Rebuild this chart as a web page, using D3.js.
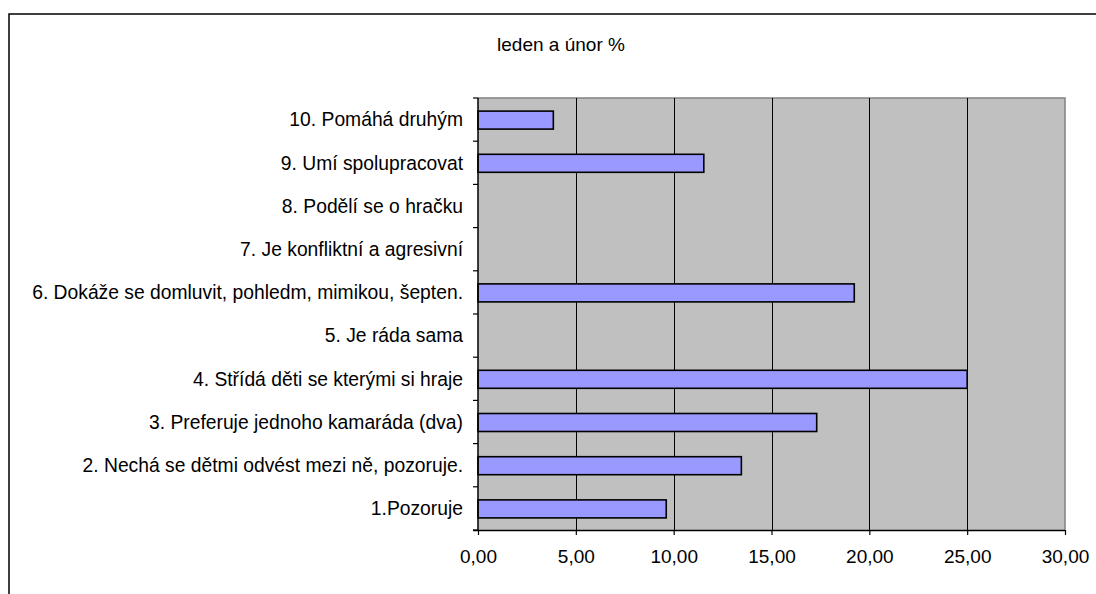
<!DOCTYPE html>
<html>
<head>
<meta charset="utf-8">
<script src="https://cdn.jsdelivr.net/npm/d3@7"></script>
<style>
  html, body { margin: 0; padding: 0; background: #fff; }
  svg { display: block; }
  text { font-family: "Liberation Sans", Arial, sans-serif; fill: #000; }
</style>
</head>
<body>
<script>
const title = "leden a únor %";
const categories = [
  "1.Pozoruje",
  "2. Nechá se dětmi odvést mezi ně, pozoruje.",
  "3. Preferuje jednoho kamaráda (dva)",
  "4. Střídá děti se kterými si hraje",
  "5. Je ráda sama",
  "6. Dokáže se domluvit, pohledm, mimikou, šepten.",
  "7. Je konfliktní a agresivní",
  "8. Podělí se o hračku",
  "9. Umí spolupracovat",
  "10. Pomáhá druhým"
];
const values = [9.62, 13.46, 17.31, 25.00, 0, 19.23, 0, 0, 11.54, 3.85];
const xTicks = [0, 5, 10, 15, 20, 25, 30];

const W = 1096, H = 594;
const plot = { left: 478, right: 1065, top: 98, bottom: 530 };

const svg = d3.select("body").append("svg").attr("width", W).attr("height", H);

// outer chart border (top and left visible)
svg.append("path")
  .attr("d", `M9,${H} L9,14 L${W},14`)
  .attr("fill", "none").attr("stroke", "#000").attr("stroke-width", 1.5);

// title
svg.append("text")
  .attr("x", 561).attr("y", 51)
  .attr("text-anchor", "middle")
  .style("font-size", "19px")
  .text(title);

const x = d3.scaleLinear().domain([0, 30]).range([plot.left, plot.right]);
const y = d3.scaleBand().domain(categories.slice().reverse())
  .range([plot.top, plot.bottom]).paddingInner(0).paddingOuter(0);

// plot background
svg.append("rect")
  .attr("x", plot.left).attr("y", plot.top)
  .attr("width", plot.right - plot.left).attr("height", plot.bottom - plot.top)
  .attr("fill", "#c0c0c0");

// plot border top/right (grey)
svg.append("path")
  .attr("d", `M${plot.left},${plot.top} L${plot.right},${plot.top} L${plot.right},${plot.bottom}`)
  .attr("fill", "none").attr("stroke", "#808080").attr("stroke-width", 1.5);

// gridlines
svg.append("g").selectAll("line")
  .data(xTicks.filter(t => t > 0 && t < 30))
  .join("line")
  .attr("x1", d => Math.round(x(d)) + 0.5).attr("x2", d => Math.round(x(d)) + 0.5)
  .attr("y1", plot.top).attr("y2", plot.bottom)
  .attr("stroke", "#000").attr("stroke-width", 1);

// bars
const barH = 18;
svg.append("g").selectAll("rect")
  .data(categories.map((c, i) => ({ c, v: values[i] })).filter(d => d.v > 0))
  .join("rect")
  .attr("x", x(0))
  .attr("y", d => y(d.c) + y.bandwidth() / 2 - barH / 2 + 0.5)
  .attr("width", d => x(d.v) - x(0))
  .attr("height", barH)
  .attr("fill", "#9999ff")
  .attr("stroke", "#000").attr("stroke-width", 1.6);

// x axis
const xAxis = d3.axisBottom(x).tickValues(xTicks)
  .tickFormat(d => d3.format(".2f")(d).replace(".", ","))
  .tickSize(5).tickSizeOuter(0).tickPadding(15);
const gx = svg.append("g").attr("transform", `translate(0,${plot.bottom})`).call(xAxis);
gx.select(".domain").attr("stroke", "#000").attr("stroke-width", 1.5)
  .attr("d", `M${plot.left - 5},0.5H${plot.right}`);
gx.selectAll(".tick line").attr("stroke", "#000").attr("stroke-width", 1.2);
gx.selectAll("text").style("font-size", "19px").style("font-family", "Liberation Sans, Arial, sans-serif");

// y axis with ticks at band boundaries
const gy = svg.append("g");
gy.append("line")
  .attr("x1", plot.left).attr("x2", plot.left)
  .attr("y1", plot.top).attr("y2", plot.bottom)
  .attr("stroke", "#000").attr("stroke-width", 1.5);
const bounds = d3.range(categories.length + 1).map(i => plot.top + i * y.bandwidth());
gy.selectAll("line.tk").data(bounds).join("line").attr("class", "tk")
  .attr("x1", plot.left - 5).attr("x2", plot.left)
  .attr("y1", d => d).attr("y2", d => d)
  .attr("stroke", "#000").attr("stroke-width", 1.2);
gy.selectAll("text").data(categories).join("text")
  .attr("x", plot.left - 15)
  .attr("y", d => y(d) + y.bandwidth() / 2)
  .attr("dy", "0.35em")
  .attr("text-anchor", "end")
  .style("font-size", "19.3px")
  .text(d => d);
</script>
</body>
</html>
